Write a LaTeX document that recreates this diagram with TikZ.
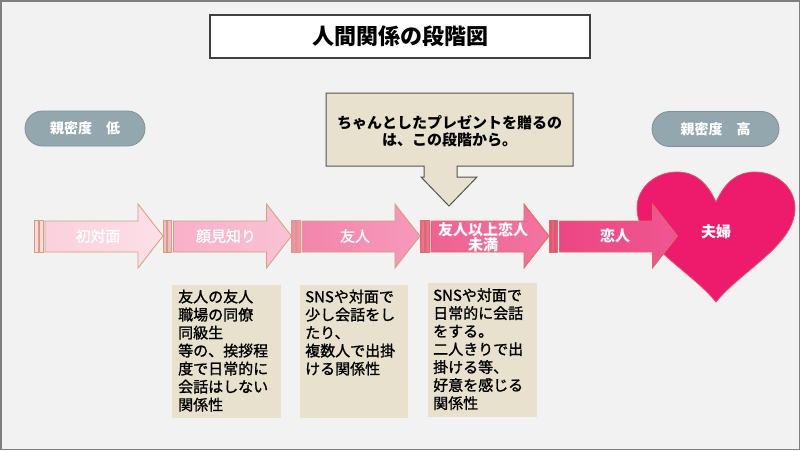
\documentclass[tikz,border=0pt]{standalone}
\usepackage{fontspec}
\newfontfamily\jp{Noto Sans CJK JP}
\newfontfamily\jpm[FakeBold=1.2]{Noto Sans CJK JP}
\definecolor{bgc}{HTML}{F2F2F2}
\definecolor{framec}{HTML}{7F7F7F}
\definecolor{titleb}{HTML}{404040}
\definecolor{beige}{HTML}{E7E1CE}
\definecolor{pillf}{HTML}{93A7AE}
\definecolor{pillb}{HTML}{7D9198}
\definecolor{aAl}{HTML}{FBD0DD}\definecolor{aAr}{HTML}{FDDFE8}
\definecolor{aBl}{HTML}{F8B0C8}\definecolor{aBr}{HTML}{FAC2D4}
\definecolor{aCl}{HTML}{F385AC}\definecolor{aCr}{HTML}{F699BA}
\definecolor{aDl}{HTML}{EF6294}\definecolor{aDr}{HTML}{F2749F}
\definecolor{aEl}{HTML}{EC4685}\definecolor{aEr}{HTML}{EF5790}
\definecolor{tanb}{HTML}{CFA07A}
\definecolor{salb}{HTML}{D4705E}
\definecolor{heartf}{HTML}{EE1A6C}
\definecolor{heartb}{HTML}{D9586A}
\newcommand\pinkarrow[5]{%
  \shade[left color=#2,right color=#3,draw=#4,line width=0.8pt]
    (#1,220) rectangle ({#1+3.5},252);
  \shade[left color=#2,right color=#3,draw=#4,line width=0.8pt]
    ({#1+4.5},220) rectangle ({#1+8.5},252);
  \shade[left color=#2,right color=#3,draw=#4,line width=0.8pt]
    ({#1+10.5},221) -- ({#1+103.5},221) -- ({#1+103.5},204) -- ({#1+128.5},236)
    -- ({#1+103.5},268) -- ({#1+103.5},252) -- ({#1+10.5},252) -- cycle;
  \coordinate (#5) at ({#1+67},236);
}
\begin{document}
\begin{tikzpicture}[x=1pt,y=-1pt,
  every node/.style={font=\jp, inner sep=0pt},
  pill/.style={fill=pillf, draw=pillb, line width=0.8pt, rounded corners=17.5pt,
    minimum width=120pt, minimum height=35pt, text=white,
    font=\jp\bfseries\fontsize{14}{16}\selectfont},
  notebox/.style={fill=beige},
  notetext/.style={anchor=north west, align=left,
    font=\jpm\fontsize{15}{18}\selectfont},
  arrowtext/.style={text=white, align=center,
    font=\jpm\fontsize{15}{15}\selectfont},
  arrowtextb/.style={text=white, align=center,
    font=\jp\bfseries\fontsize{15}{15}\selectfont}]
\useasboundingbox (0,0) rectangle (800,450);
\fill[bgc] (0,0) rectangle (800,450);
\draw[framec, line width=1.5pt] (0.75,0.75) rectangle (799.25,449.25);

% title
\node[draw=titleb, fill=white, line width=1.6pt, minimum width=380pt, minimum height=43pt,
  font=\jp\bfseries\fontsize{22}{24}\selectfont] (title) at (400,36.5) {人間関係の段階図};

% pills
\node[pill] (low) at (85,128.5) {親密度　低};
\node[pill, minimum width=127pt] (high) at (715.5,129) {親密度　高};

% callout
\draw[fill=beige, draw=titleb!90, line width=1pt]
  (326,93) -- (573,93) -- (573,166) -- (457,166) -- (457,177) -- (477,177)
  -- (449,206) -- (421,177) -- (424,177) -- (424,166) -- (326,166) -- cycle;
\node[align=center, font=\jp\bfseries\fontsize{15}{17}\selectfont] (callout) at (449.5,131.5)
  {ちゃんとしたプレゼントを贈るの\\は、この段階から。};

% heart
\draw[fill=heartf, draw=heartb, line width=0.8pt]
  (716,202) .. controls (706,180) and (693,172) .. (677,172)
  .. controls (655,172) and (637,188) .. (637,208)
  .. controls (637,245) and (690,270) .. (716,302)
  .. controls (742,270) and (795,245) .. (795,208)
  .. controls (795,188) and (777,172) .. (755,172)
  .. controls (739,172) and (726,180) .. (716,202) -- cycle;

% arrows
\pinkarrow{34.5}{aAl}{aAr}{tanb}{c1}
\pinkarrow{163}{aBl}{aBr}{tanb}{c2}
\pinkarrow{291.5}{aCl}{aCr}{tanb}{c3}
\pinkarrow{420.5}{aDl}{aDr}{salb}{c4}
\pinkarrow{549}{aEl}{aEr}{salb}{c5}

\node[arrowtext] (t1) at (98,236) {初対面};
\node[arrowtext] (t2) at (226,236) {顔見知り};
\node[arrowtext] (t3) at (355,236) {友人};
\node[arrowtextb, font=\jp\bfseries\fontsize{15}{15.5}\selectfont] (t4) at (483,237.5) {友人以上恋人\\未満};
\node[arrowtextb] (t5) at (615,236) {恋人};
\node[arrowtextb] (t6) at (716,232) {夫婦};

% note boxes
\fill[notebox] (172,285) rectangle (281,418);
\fill[notebox] (300,285) rectangle (408,418);
\fill[notebox] (428,283) rectangle (537,417);
\node[notetext] (n1) at (178,289.5) {友人の友人\\職場の同僚\\同級生\\等の、挨拶程\\度で日常的に\\会話はしない\\関係性};
\node[notetext] (n2) at (305,289.5) {SNSや対面で\\少し会話をし\\たり、\\複数人で出掛\\ける関係性};
\node[notetext] (n3) at (433,288) {SNSや対面で\\日常的に会話\\をする。\\二人きりで出\\掛ける等、\\好意を感じる\\関係性};
\end{tikzpicture}
\end{document}
